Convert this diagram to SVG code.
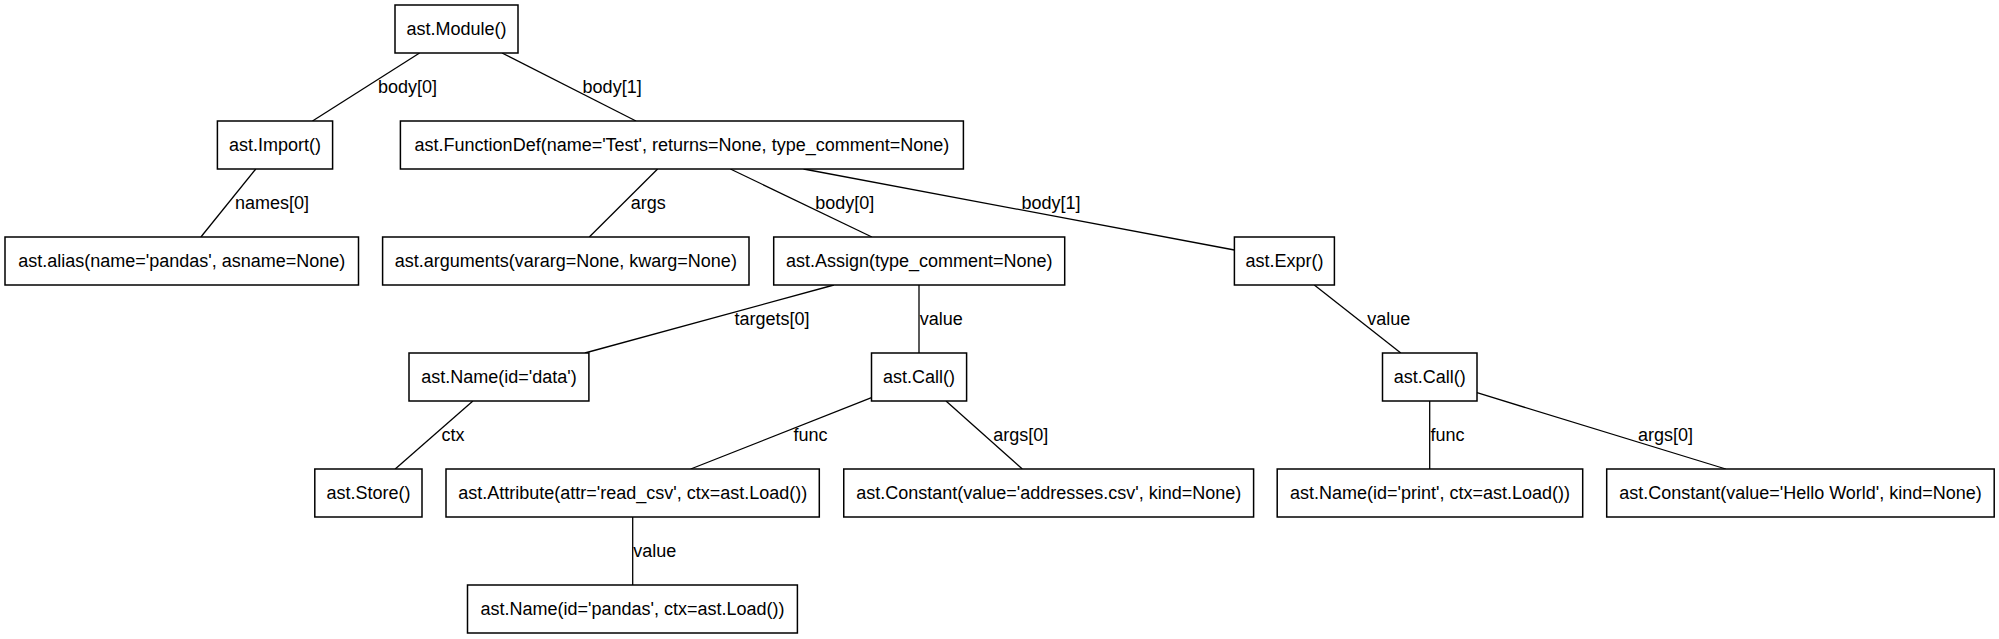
<svg xmlns="http://www.w3.org/2000/svg" width="1999" height="639" viewBox="0 0 1999 639">
<style>
rect{fill:#fff;stroke:#000;stroke-width:1.5}
text{font-family:"Liberation Sans",Arial,sans-serif;font-size:18px;fill:#000}
.n text{text-anchor:middle}
#edges line{stroke:#000;stroke-width:1.3}
</style>
<rect x="0" y="0" width="1999" height="639" style="stroke:none"/>
<g id="edges">
<line x1="419.6" y1="53" x2="312.5" y2="121"/>
<line x1="502" y1="53" x2="636" y2="121"/>
<line x1="255.8" y1="169" x2="200.9" y2="237"/>
<line x1="657.6" y1="169" x2="589.3" y2="237"/>
<line x1="730.4" y1="169" x2="871.9" y2="237"/>
<line x1="803.6" y1="169" x2="1234.4" y2="250"/>
<line x1="833.9" y1="285" x2="584.9" y2="353"/>
<line x1="919" y1="285" x2="919" y2="353"/>
<line x1="1314.3" y1="285" x2="1400.8" y2="353"/>
<line x1="472.9" y1="401" x2="395.2" y2="469"/>
<line x1="871.5" y1="397.7" x2="690.7" y2="469"/>
<line x1="946" y1="401" x2="1022.3" y2="469"/>
<line x1="1429.7" y1="401" x2="1429.7" y2="469"/>
<line x1="1477" y1="392.7" x2="1725.8" y2="469"/>
<line x1="632.7" y1="517" x2="632.7" y2="585"/>
<text x="378" y="93">body[0]</text>
<text x="582.6" y="93">body[1]</text>
<text x="235" y="209">names[0]</text>
<text x="630.8" y="209">args</text>
<text x="815.2" y="209">body[0]</text>
<text x="1021.4" y="209">body[1]</text>
<text x="734.5" y="325">targets[0]</text>
<text x="919.8" y="325">value</text>
<text x="1367.3" y="325">value</text>
<text x="441.6" y="441">ctx</text>
<text x="793.4" y="441">func</text>
<text x="993.3" y="441">args[0]</text>
<text x="1430.6" y="441">func</text>
<text x="1638" y="441">args[0]</text>
<text x="633.2" y="557">value</text>
</g>
<g id="n_module" class="n"><rect x="395" y="5" width="123" height="48"/><text x="456.5" y="35.4">ast.Module()</text></g>
<g id="n_import" class="n"><rect x="217.4" y="121" width="115.2" height="48"/><text x="275" y="151.4">ast.Import()</text></g>
<g id="n_funcdef" class="n"><rect x="400.4" y="121" width="563" height="48"/><text x="681.9" y="151.4">ast.FunctionDef(name='Test', returns=None, type_comment=None)</text></g>
<g id="n_alias" class="n"><rect x="5" y="237" width="353.5" height="48"/><text x="181.7" y="267.4">ast.alias(name='pandas', asname=None)</text></g>
<g id="n_arguments" class="n"><rect x="382.6" y="237" width="366.4" height="48"/><text x="565.8" y="267.4">ast.arguments(vararg=None, kwarg=None)</text></g>
<g id="n_assign" class="n"><rect x="773.7" y="237" width="291" height="48"/><text x="919.2" y="267.4">ast.Assign(type_comment=None)</text></g>
<g id="n_expr" class="n"><rect x="1234.4" y="237" width="100" height="48"/><text x="1284.4" y="267.4">ast.Expr()</text></g>
<g id="n_name_data" class="n"><rect x="409" y="353" width="179.9" height="48"/><text x="499" y="383.4">ast.Name(id='data')</text></g>
<g id="n_call1" class="n"><rect x="871.5" y="353" width="95.1" height="48"/><text x="919" y="383.4">ast.Call()</text></g>
<g id="n_call2" class="n"><rect x="1382.5" y="353" width="94.5" height="48"/><text x="1429.7" y="383.4">ast.Call()</text></g>
<g id="n_store" class="n"><rect x="314.8" y="469" width="107.2" height="48"/><text x="368.4" y="499.4">ast.Store()</text></g>
<g id="n_attribute" class="n"><rect x="446" y="469" width="373.3" height="48"/><text x="632.7" y="499.4">ast.Attribute(attr='read_csv', ctx=ast.Load())</text></g>
<g id="n_const_addr" class="n"><rect x="843.75" y="469" width="409.85" height="48"/><text x="1048.7" y="499.4">ast.Constant(value='addresses.csv', kind=None)</text></g>
<g id="n_name_print" class="n"><rect x="1277.2" y="469" width="305.5" height="48"/><text x="1430" y="499.4">ast.Name(id='print', ctx=ast.Load())</text></g>
<g id="n_const_hello" class="n"><rect x="1606.7" y="469" width="387.5" height="48"/><text x="1800.5" y="499.4">ast.Constant(value='Hello World', kind=None)</text></g>
<g id="n_name_pandas" class="n"><rect x="467.5" y="585" width="329.9" height="48"/><text x="632.5" y="615.4">ast.Name(id='pandas', ctx=ast.Load())</text></g>
</svg>
